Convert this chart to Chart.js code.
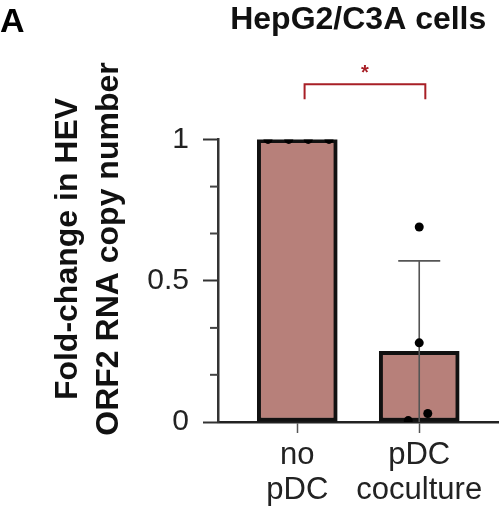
<!DOCTYPE html>
<html>
<head>
<meta charset="utf-8">
<title>HepG2/C3A cells</title>
<script src="https://cdn.jsdelivr.net/npm/chart.js@4.4.1/dist/chart.umd.min.js"></script>
<style>
    html, body { margin: 0; padding: 0; background: #fff; }
    #wrap { width: 503px; height: 513px; position: relative; }
</style>
</head>
<body>
<div id="wrap"><canvas id="chart"></canvas></div>
<script>
/* ─── Data ─────────────────────────────────────────────────────── */
const categories      = [['no', 'pDC'], ['pDC', 'coculture']];
const groupX          = [1, 2];
const barMeans        = [1.0, 0.25];
const errorTops       = [1.0, 0.57];
const errorBottoms    = [1.0, 0.0];
const noPdcPoints     = [1, 1, 1, 1];
const noPdcJitter     = [-0.24, -0.07, 0.09, 0.26];
const coculturePoints = [0.69, 0.28, 0.03, 0.005];
const cocultureJitter = [0, 0, 0.07, -0.09];
const yMajorTicks     = [0, 0.5, 1];
const yMinorTicks     = [0.167, 0.333, 0.667, 0.833];
const yTitleLines     = ['Fold-change in HEV', 'ORF2 RNA copy number'];

// significance bracket between the two groups (data units)
const bracket = { from: 1.06, to: 2.05, y: 1.195, legY: 1.142, label: '*' };

const FONT = "'Liberation Sans', Arial, Helvetica, sans-serif";
Chart.defaults.font.family = FONT;

/* ─── Extras: error bars, minor ticks, bracket, titles ─────────── */
const extras = {
    id: 'extras',
    afterDatasetDraw(chart, args) {
        if (args.index !== 0) return;
        const { ctx, scales: { x, y } } = chart;
        ctx.save();
        ctx.strokeStyle = '#555';
        ctx.lineWidth   = 1.6;
        groupX.forEach((gx, i) => {
            if (errorTops[i] <= barMeans[i]) return;
            const px  = x.getPixelForValue(gx);
            const top = y.getPixelForValue(errorTops[i]);
            ctx.beginPath();
            ctx.moveTo(px, y.getPixelForValue(errorBottoms[i]));
            ctx.lineTo(px, top);
            ctx.moveTo(px - 21, top);
            ctx.lineTo(px + 21, top);
            ctx.stroke();
        });
        ctx.restore();
    },
    afterDraw(chart) {
        const { ctx, scales: { x, y } } = chart;
        ctx.save();

        // minor ticks on the y axis
        ctx.strokeStyle = '#444';
        ctx.lineWidth   = 2;
        yMinorTicks.forEach(v => {
            const py = y.getPixelForValue(v);
            ctx.beginPath();
            ctx.moveTo(y.right - 8, py);
            ctx.lineTo(y.right, py);
            ctx.stroke();
        });

        // bracket + star
        const bx1 = x.getPixelForValue(bracket.from);
        const bx2 = x.getPixelForValue(bracket.to);
        const by  = y.getPixelForValue(bracket.y);
        const bl  = y.getPixelForValue(bracket.legY);
        ctx.strokeStyle = '#a81f26';
        ctx.lineWidth   = 2;
        ctx.beginPath();
        ctx.moveTo(bx1, bl);
        ctx.lineTo(bx1, by);
        ctx.lineTo(bx2, by);
        ctx.lineTo(bx2, bl);
        ctx.stroke();
        ctx.fillStyle    = '#a81f26';
        ctx.font         = 'bold 20px ' + FONT;
        ctx.textAlign    = 'center';
        ctx.textBaseline = 'middle';
        ctx.fillText(bracket.label, (bx1 + bx2) / 2, by - 11);

        // panel letter
        ctx.fillStyle    = '#000';
        ctx.font         = 'bold 34px ' + FONT;
        ctx.textAlign    = 'left';
        ctx.textBaseline = 'top';
        ctx.fillText('A', 0, 6);

        // y axis title, two rotated lines
        ctx.translate(0, 249);
        ctx.rotate(-Math.PI / 2);
        ctx.fillStyle    = '#111';
        ctx.font         = 'bold 32px ' + FONT;
        ctx.textAlign    = 'center';
        ctx.textBaseline = 'alphabetic';
        ctx.fillText(yTitleLines[0], 0, 77);
        ctx.fillText(yTitleLines[1], 0, 118);
        ctx.restore();
    }
};

const scatterStyle = {
    type            : 'scatter',
    pointRadius     : 4.5,
    pointBackgroundColor: '#000',
    pointBorderWidth: 0,
    showLine        : false,
};

new Chart(document.getElementById('chart'), {
    type: 'bar',
    data: {
        datasets: [
            {
                data            : groupX.map((gx, i) => ({ x: gx, y: barMeans[i] })),
                backgroundColor : '#b7807a',
                borderColor     : '#111',
                borderWidth     : 4,
                borderSkipped   : false,
                barThickness    : 80,
                order           : 2,
            },
            Object.assign({}, scatterStyle, {
                data  : noPdcPoints.map((v, i) => ({ x: groupX[0] + noPdcJitter[i], y: v })),
                order : 1,
            }),
            Object.assign({}, scatterStyle, {
                data  : coculturePoints.map((v, i) => ({ x: groupX[1] + cocultureJitter[i], y: v })),
                order : 1,
            }),
        ],
    },
    options: {
        responsive          : true,
        maintainAspectRatio : false,
        animation           : false,
        layout  : { padding: { left: 0, right: 3, top: 0, bottom: 0 } },
        plugins : {
            legend  : { display: false },
            tooltip : { enabled: false },
            title   : {
                display  : true,
                text     : 'HepG2/C3A cells',
                fullSize : false,
                color    : '#111',
                font     : { size: 32, weight: 'bold' },
                padding  : { top: 1, bottom: 100 },
            },
        },
        scales: {
            x: {
                type   : 'linear',
                min    : 0.35,
                max    : 2.65,
                offset : false,
                afterBuildTicks : s => { s.ticks = groupX.map(v => ({ value: v })); },
                afterFit        : s => { s.height = 91; },
                grid   : {
                    offset          : false,
                    drawOnChartArea : false,
                    tickLength      : 11,
                    tickColor       : '#555',
                    tickWidth       : 1.5,
                },
                border : { color: '#222', width: 2.5 },
                ticks  : {
                    color       : '#222',
                    font        : { size: 31, lineHeight: 1.12 },
                    padding     : 5,
                    maxRotation : 0,
                    callback    : v => categories[groupX.indexOf(v)],
                },
            },
            y: {
                min : 0,
                max : 1,
                afterBuildTicks : s => { s.ticks = yMajorTicks.map(v => ({ value: v })); },
                afterFit        : s => { s.width = 218; },
                grid   : {
                    drawOnChartArea : false,
                    tickLength      : 15,
                    tickColor       : '#333',
                    tickWidth       : 2,
                },
                border : { color: '#333', width: 2.5 },
                ticks  : {
                    color    : '#222',
                    font     : { size: 30 },
                    padding  : 14,
                    callback : v => String(v),
                },
            },
        },
    },
    plugins: [extras],
});
</script>
</body>
</html>
